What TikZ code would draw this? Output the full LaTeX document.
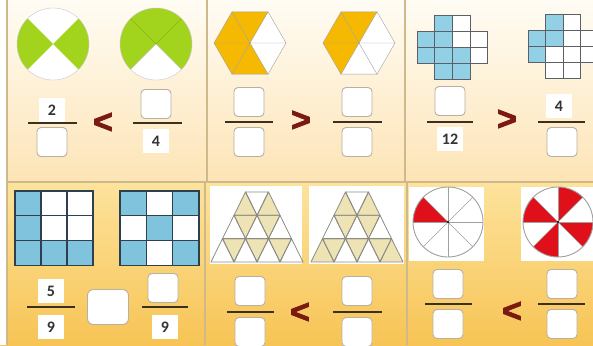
\documentclass[tikz,border=0pt]{standalone}
\usepackage{fontspec}
\setmainfont{Carlito}
\newfontfamily\signfont[FakeBold=2.5]{Liberation Sans Bold}
\definecolor{bgTopA}{HTML}{FFFCF4}
\definecolor{bgTopB}{HTML}{FDE4B6}
\definecolor{bgBotA}{HTML}{FDE39C}
\definecolor{bgBotB}{HTML}{F7C455}
\definecolor{divc}{HTML}{CDB98A}
\definecolor{leaf}{HTML}{A2D41E}
\definecolor{leafline}{HTML}{86B414}
\definecolor{pale}{HTML}{C8C8C8}
\definecolor{hexo}{HTML}{F6B902}
\definecolor{hexline}{HTML}{A0A0A0}
\definecolor{crossblue}{HTML}{92D0E6}
\definecolor{crossline}{HTML}{5A6066}
\definecolor{gridblue}{HTML}{7FC4DC}
\definecolor{gridline}{HTML}{2E4050}
\definecolor{trifill}{HTML}{EDE3B4}
\definecolor{triline}{HTML}{8C8C84}
\definecolor{pinred}{HTML}{E0101A}
\definecolor{boxgray}{HTML}{B8B0A0}
\definecolor{numgray}{HTML}{333333}
\definecolor{signred}{HTML}{7A1A10}
\definecolor{bardark}{HTML}{3A3020}
\newcommand\mytriup[4]{\path[#4] ({#1-(#2+2)*11.5+#3*23},{192+(#2+1)*23.3}) -- ++(23,0) -- ++(-11.5,-23.3) -- cycle;}
\newcommand\mytridn[4]{\path[#4] ({#1-(#2+1)*11.5+#3*23},{192+#2*23.3}) -- ++(23,0) -- ++(-11.5,23.3) -- cycle;}
\begin{document}
\begin{tikzpicture}[x=1pt,y=-1pt,
  numbox/.style={draw=boxgray, fill=white, rounded corners=4pt, minimum width=30pt, minimum height=29pt, line width=0.9pt, inner sep=0pt},
  bigbox/.style={numbox, minimum width=41pt, minimum height=35pt, rounded corners=6pt},
  numtxt/.style={font=\bfseries\fontsize{16}{16}\selectfont, text=numgray, fill=white, minimum width=26pt, minimum height=24pt, inner sep=0pt},
  signtxt/.style={font=\signfont\fontsize{34}{34}\selectfont, text=signred, inner sep=0pt},
  fbar/.style={draw=bardark, line width=2pt},
  divline/.style={draw=divc, line width=1.1pt}]
\useasboundingbox (0,0) rectangle (593,345);
\clip (0,0) rectangle (593,345);
% backgrounds
\shade[top color=bgTopA, bottom color=bgTopB] (0,0) rectangle (593,182);
\shade[top color=bgBotA, bottom color=bgBotB] (0,182) rectangle (593,345);
\fill[white] (0,0) rectangle (7,345);
\draw[divline] (7,0) -- (7,345);
\draw[divline] (7,182) -- (593,182);
\draw[divline] (207,0) -- (207,182);
\draw[divline] (405,0) -- (405,182);
\draw[divline] (205,182) -- (205,345);
\draw[divline] (407,182) -- (407,345);

% ---------- Panel 1: circles ----------
\begin{scope}[shift={(53,44)}, yscale=-1]
  \fill[white] (0,0) circle[radius=36];
  \fill[leaf] (0,0) -- (-45:36) arc[start angle=-45,end angle=45,radius=36] -- cycle;
  \fill[leaf] (0,0) -- (135:36) arc[start angle=135,end angle=225,radius=36] -- cycle;
  \draw[pale] (0,0) circle[radius=36];
\end{scope}
\begin{scope}[shift={(156,44)}, yscale=-1]
  \fill[white] (0,0) circle[radius=36];
  \fill[leaf] (0,0) -- (-45:36) arc[start angle=-45,end angle=225,radius=36] -- cycle;
  \draw[leafline] (0,0) -- (45:36) (0,0) -- (135:36);
  \draw[pale] (0,0) -- (225:36) (0,0) -- (-45:36);
  \draw[pale] (0,0) circle[radius=36];
\end{scope}
\node[numtxt] (p1n1) at (52,110) {2};
\draw[fbar] (28,123) -- (77,123);
\node[numbox] (p1d1) at (52,142) {};
\node[signtxt] (p1s) at (103,123) {<};
\node[numbox] (p1n2) at (156,104) {};
\draw[fbar] (133,123) -- (182,123);
\node[numtxt] (p1d2) at (156,141) {4};

% ---------- Panel 2: hexagons ----------
\begin{scope}[shift={(250,43)}, yscale=-1]
  \fill[white] (0:36) -- (60:36) -- (120:36) -- (180:36) -- (240:36) -- (300:36) -- cycle;
  \foreach \a in {60,120,180,240} \fill[hexo] (0,0) -- (\a:36) -- ({\a+60}:36) -- cycle;
  \foreach \a in {0,60,...,300} \draw[hexline] (0,0) -- (\a:36) -- ({\a+60}:36);
\end{scope}
\begin{scope}[shift={(359,43)}, yscale=-1]
  \fill[white] (0:36) -- (60:36) -- (120:36) -- (180:36) -- (240:36) -- (300:36) -- cycle;
  \foreach \a in {60,120,180} \fill[hexo] (0,0) -- (\a:36) -- ({\a+60}:36) -- cycle;
  \foreach \a in {0,60,...,300} \draw[hexline] (0,0) -- (\a:36) -- ({\a+60}:36);
\end{scope}
\node[numbox] (p2n1) at (249,102) {};
\draw[fbar] (225,122) -- (273,122);
\node[numbox] (p2d1) at (249,142) {};
\node[signtxt] (p2s) at (301,121) {>};
\node[numbox] (p2n2) at (357,102) {};
\draw[fbar] (333,122) -- (382,122);
\node[numbox] (p2d2) at (357,142) {};

% ---------- Panel 3: crosses ----------
\foreach \c/\r/\f in {1/0/crossblue,2/0/white,
    0/1/crossblue,1/1/crossblue,2/1/white,3/1/white,
    0/2/crossblue,1/2/crossblue,2/2/crossblue,3/2/white,
    1/3/crossblue,2/3/crossblue}
  \filldraw[fill=\f, draw=crossline, line width=0.8pt] ({417+\c*17.7},{15+\r*16}) rectangle ++(17.7,16);
\foreach \c/\r/\f in {1/0/crossblue,2/0/white,
    0/1/crossblue,1/1/crossblue,2/1/white,3/1/white,
    0/2/crossblue,1/2/white,2/2/white,3/2/white,
    1/3/white,2/3/white}
  \filldraw[fill=\f, draw=crossline, line width=0.8pt] ({528+\c*17.5},{14+\r*16}) rectangle ++(17.5,16);
\node[numbox] (p3n1) at (450,101) {};
\draw[fbar] (427,122) -- (473,122);
\node[numtxt] (p3d1) at (450,139) {12};
\node[signtxt] (p3s) at (507,120) {>};
\node[numtxt] (p3n2) at (559,106) {4};
\draw[fbar] (538,122) -- (585,122);
\node[numbox] (p3d2) at (562,142) {};

% ---------- Panel 4: 3x3 grids ----------
\foreach \c/\r/\f in {0/0/gridblue,1/0/white,2/0/white,
    0/1/gridblue,1/1/white,2/1/white,
    0/2/gridblue,1/2/gridblue,2/2/gridblue}
  \filldraw[fill=\f, draw=gridline, line width=1.2pt] ({15+\c*26},{191+\r*24.7}) rectangle ++(26,24.7);
\foreach \c/\r/\f in {0/0/gridblue,1/0/white,2/0/gridblue,
    0/1/white,1/1/gridblue,2/1/white,
    0/2/gridblue,1/2/white,2/2/gridblue}
  \filldraw[fill=\f, draw=gridline, line width=1.2pt] ({120+\c*26.3},{191+\r*24.7}) rectangle ++(26.3,24.7);
\node[numtxt] (p4n1) at (51,291) {5};
\draw[fbar] (27,307) -- (75,307);
\node[numtxt] (p4d1) at (51,327) {9};
\node[bigbox] (p4c) at (108,307) {};
\node[numbox] (p4n2) at (163,288) {};
\draw[fbar] (142,307) -- (188,307);
\node[numtxt] (p4d2) at (165,327) {9};

% ---------- Panel 5: triangles ----------
\fill[white] (210,186) rectangle (302,264);
\fill[white] (309,186) rectangle (404,264);
\foreach \r/\k in {0/0,0/1}{\mytriup{257}{\r}{\k}{fill=trifill}}
\foreach \r/\k in {1/0,1/1,2/0,2/1,2/2}{\mytridn{257}{\r}{\k}{fill=trifill}}
\foreach \r/\k in {0/0,0/1,2/0,2/3}{\mytriup{357}{\r}{\k}{fill=trifill}}
\foreach \r/\k in {1/0,1/1,2/0,2/1,2/2}{\mytridn{357}{\r}{\k}{fill=trifill}}
\foreach \cx in {257,357}{
  \foreach \r in {0,1,2}{
    \pgfmathtruncatemacro\nup{\r+1}
    \foreach \k in {0,...,\nup}{\mytriup{\cx}{\r}{\k}{draw=triline, line width=0.8pt, line join=round}}
    \foreach \k in {0,...,\r}{\mytridn{\cx}{\r}{\k}{draw=triline, line width=0.8pt, line join=round}}
  }
}
\node[numbox] (p5n1) at (250,291) {};
\draw[fbar] (227,312) -- (274,312);
\node[numbox] (p5d1) at (250,332) {};
\node[signtxt] (p5s) at (300,313) {<};
\node[numbox] (p5n2) at (357,291) {};
\draw[fbar] (333,312) -- (382,312);
\node[numbox] (p5d2) at (357,332) {};

% ---------- Panel 6: 8-part circles ----------
\fill[white] (409,187) rectangle (484,261);
\fill[white] (521,187) rectangle (596,261);
\begin{scope}[shift={(448,222)}, yscale=-1]
  \fill[pinred] (0,0) -- (135:35) arc[start angle=135,end angle=180,radius=35] -- cycle;
  \foreach \a in {0,45,...,315} \draw[hexline] (0,0) -- (\a:35);
  \draw[hexline, line width=0.9pt] (0,0) circle[radius=35];
  \fill[black] (0,0) circle[radius=1.2];
\end{scope}
\begin{scope}[shift={(558,222)}, yscale=-1]
  \foreach \a in {45,135,225,315}
    \fill[pinred] (0,0) -- (\a:35) arc[start angle=\a,end angle={\a+45},radius=35] -- cycle;
  \foreach \a in {0,45,...,315} \draw[hexline] (0,0) -- (\a:35);
  \draw[hexline, line width=0.9pt] (0,0) circle[radius=35];
  \fill[black] (0,0) circle[radius=1.2];
\end{scope}
\node[numbox] (p6n1) at (448,284) {};
\draw[fbar] (425,304) -- (472,304);
\node[numbox] (p6d1) at (448,324) {};
\node[signtxt] (p6s) at (512,312) {<};
\node[numbox] (p6n2) at (562,284) {};
\draw[fbar] (538,304) -- (585,304);
\node[numbox] (p6d2) at (562,324) {};
\end{tikzpicture}
\end{document}
